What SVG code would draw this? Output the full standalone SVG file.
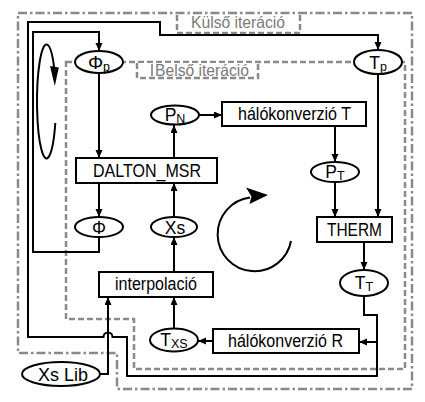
<svg xmlns="http://www.w3.org/2000/svg" width="425" height="402" viewBox="0 0 425 402">
<style>
.box{fill:#fff;stroke:#000;stroke-width:2}
.ell{fill:#fff;stroke:#000;stroke-width:2}
.t{font-family:"Liberation Sans",Arial,sans-serif;font-size:17.5px;fill:#000;text-anchor:middle}
.sub{font-size:12.5px}
.ln{fill:none;stroke:#000;stroke-width:2}
.dash{fill:none;stroke:#8a8a8a;stroke-width:2.5;stroke-dasharray:6 3}
.dd{fill:none;stroke:#8a8a8a;stroke-width:2.5;stroke-dasharray:9 3 2.5 3}
.lbl{font-family:"Liberation Sans",Arial,sans-serif;font-size:16.5px;fill:#7a7a7a}
</style>
<defs>
<marker id="ah" markerUnits="userSpaceOnUse" markerWidth="9" markerHeight="8" refX="8" refY="3.5" orient="auto">
<path d="M0,0 L8,3.5 L0,7 z" fill="#000"/>
</marker>
</defs>
<rect width="425" height="402" fill="#fff"/>

<g id="boundaries">
<path class="dd" d="M18,13 H412 V389 H117 V353 H18 Z"/>
<path class="dash" d="M66,62 H405 V369 H134 V319 H66 Z"/>
<rect x="178" y="15" width="121" height="17" fill="#fff"/>
<path class="dash" d="M177,15 V33 H300 V15"/>
<text class="lbl" x="191" y="27.5" textLength="94" lengthAdjust="spacingAndGlyphs">Külső iteráció</text>
<rect x="138" y="63" width="119" height="14" fill="#fff"/>
<path class="dash" d="M137,63 V78 H258 V63"/>
<line x1="152" y1="64" x2="152" y2="76" stroke="#7a7a7a" stroke-width="1.5"/>
<text class="lbl" x="155" y="75.5" textLength="94" lengthAdjust="spacingAndGlyphs">Belső iteráció</text>
</g>

<g id="connectors">
<path class="ln" d="M99,73 V158" marker-end="url(#ah)"/>
<path class="ln" d="M99,183 V217" marker-end="url(#ah)"/>
<path class="ln" d="M99,237 V252 H33 V32 H99 V51" marker-end="url(#ah)"/>
<path class="ln" d="M174,217 V183" marker-end="url(#ah)"/>
<path class="ln" d="M174,272 V237" marker-end="url(#ah)"/>
<path class="ln" d="M174,158 V125" marker-end="url(#ah)"/>
<path class="ln" d="M198,115 H222" marker-end="url(#ah)"/>
<path class="ln" d="M335,126 V162" marker-end="url(#ah)"/>
<path class="ln" d="M335,182 V217" marker-end="url(#ah)"/>
<path class="ln" d="M378,74 V217" marker-end="url(#ah)"/>
<path class="ln" d="M364,242 V270" marker-end="url(#ah)"/>
<path class="ln" d="M364,296 V315 H377 V376 H127 V337 H112.5 A4.5,4.5 0 0 0 103.5,337 H28 V22 H160 V35 H378 V50" marker-end="url(#ah)"/>
<path class="ln" d="M377,342 H359" marker-end="url(#ah)"/>
<path class="ln" d="M213,341 H198" marker-end="url(#ah)"/>
<path class="ln" d="M174,329 V297" marker-end="url(#ah)"/>
<path class="ln" d="M100,374 H108 V297" marker-end="url(#ah)"/>
</g>

<g id="cycles">
<path class="ln" d="M55.3,123 A9.5,57 0 1 1 54.2,68"/>
<polygon points="54.8,86 50,66 58.8,67.5" fill="#000"/>
<path class="ln" d="M291,241 A37,37 0 1 1 250,197.5"/>
<polygon points="268,195 246,187.5 251.5,196.5 249.5,204" fill="#000"/>
</g>

<g id="phi_p"><ellipse class="ell" cx="99" cy="62" rx="24" ry="11"/><text class="t" x="99" y="68.5"><tspan font-size="19">Φ</tspan><tspan class="sub" dy="2">p</tspan></text></g>
<g id="T_p"><ellipse class="ell" cx="378" cy="62" rx="24" ry="12"/><text class="t" x="378" y="68.5">T<tspan class="sub" dy="2">p</tspan></text></g>
<g id="dalton"><rect class="box" x="76" y="158" width="141" height="25"/><text class="t" x="147" y="176.5" textLength="108" lengthAdjust="spacingAndGlyphs">DALTON_MSR</text></g>
<g id="phi"><ellipse class="ell" cx="99" cy="227" rx="24" ry="10"/><text class="t" x="99" y="233.5" font-size="19">Φ</text></g>
<g id="xs"><ellipse class="ell" cx="174" cy="227" rx="23" ry="10"/><text class="t" x="175" y="233.5">Xs</text></g>
<g id="P_N"><ellipse class="ell" cx="175" cy="115" rx="24" ry="9.5"/><text class="t" x="175" y="120.5">P<tspan class="sub" dy="2">N</tspan></text></g>
<g id="halo_T"><rect class="box" x="222" y="102" width="144" height="24"/><text class="t" x="294.5" y="120" textLength="113" lengthAdjust="spacingAndGlyphs">hálókonverzió T</text></g>
<g id="P_T"><ellipse class="ell" cx="335" cy="172" rx="24" ry="10"/><text class="t" x="335" y="178">P<tspan class="sub" dy="2">T</tspan></text></g>
<g id="therm"><rect class="box" x="317" y="217" width="75" height="25"/><text class="t" x="354.5" y="235.5" textLength="55" lengthAdjust="spacingAndGlyphs">THERM</text></g>
<g id="T_T"><ellipse class="ell" cx="364" cy="283" rx="24" ry="13"/><text class="t" x="364" y="289">T<tspan class="sub" dy="2">T</tspan></text></g>
<g id="halo_R"><rect class="box" x="213" y="329" width="146" height="24"/><text class="t" x="285.5" y="347" textLength="115" lengthAdjust="spacingAndGlyphs">hálókonverzió R</text></g>
<g id="T_XS"><ellipse class="ell" cx="174" cy="340" rx="24" ry="11.5"/><text class="t" x="174" y="346">T<tspan class="sub" dy="2">XS</tspan></text></g>
<g id="interp"><rect class="box" x="99" y="272" width="114" height="25"/><text class="t" x="156" y="290" textLength="82" lengthAdjust="spacingAndGlyphs">interpolació</text></g>
<g id="xs_lib"><ellipse class="ell" cx="61" cy="374" rx="39" ry="12"/><text class="t" x="63" y="380.5" textLength="50" lengthAdjust="spacingAndGlyphs">Xs Lib</text></g>
</svg>
